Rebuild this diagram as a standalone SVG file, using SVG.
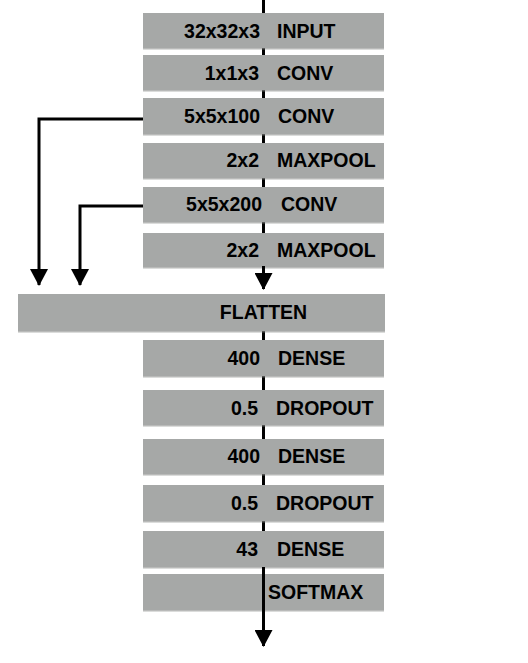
<svg xmlns="http://www.w3.org/2000/svg" width="528" height="663" viewBox="0 0 528 663">
<style>
.box{fill:#a6a8a7}
.sh{fill:#8a8c8b;opacity:0.6}
.t{font-family:"Liberation Sans",Arial,sans-serif;font-weight:bold;font-size:19.5px;fill:#000}
.n{text-anchor:end}
.ln{stroke:#000;stroke-width:3;fill:none}
</style>
<defs>
<marker id="ah" markerUnits="userSpaceOnUse" markerWidth="17" markerHeight="18" refX="16" refY="9" orient="auto" viewBox="0 0 17 18">
<path d="M0,0 L17,9 L0,18 Z" fill="#000"/>
</marker>
</defs>
<g id="connectors-back">
<line class="ln" x1="263.5" y1="0" x2="263.5" y2="280"/>
<line class="ln" x1="263.5" y1="331" x2="263.5" y2="575"/>
</g>
<g id="node-input"><rect class="sh" x="143" y="14.5" width="241" height="35"/><rect class="box" x="143" y="13" width="241" height="35"/><text class="t n" x="260" y="37.5">32x32x3</text><text class="t" x="277" y="37.5">INPUT</text></g>
<g id="node-conv1"><rect class="sh" x="143" y="56.5" width="241" height="35"/><rect class="box" x="143" y="55" width="241" height="35"/><text class="t n" x="259" y="79.5">1x1x3</text><text class="t" x="277" y="79.5">CONV</text></g>
<g id="node-conv2"><rect class="sh" x="143" y="99.5" width="241" height="36"/><rect class="box" x="143" y="98" width="241" height="36"/><text class="t n" x="260" y="123">5x5x100</text><text class="t" x="278" y="123">CONV</text></g>
<g id="node-pool1"><rect class="sh" x="143" y="144.5" width="241" height="35"/><rect class="box" x="143" y="143" width="241" height="35"/><text class="t n" x="259" y="167">2x2</text><text class="t" x="277" y="167">MAXPOOL</text></g>
<g id="node-conv3"><rect class="sh" x="143" y="188.5" width="241" height="35"/><rect class="box" x="143" y="187" width="241" height="35"/><text class="t n" x="262" y="211">5x5x200</text><text class="t" x="281" y="211">CONV</text></g>
<g id="node-pool2"><rect class="sh" x="143" y="234.5" width="241" height="34"/><rect class="box" x="143" y="233" width="241" height="34"/><text class="t n" x="259" y="257">2x2</text><text class="t" x="277" y="257">MAXPOOL</text></g>
<g id="node-flatten"><rect class="sh" x="18" y="295.5" width="367" height="37"/><rect class="box" x="18" y="294" width="367" height="37"/><text class="t" x="263.5" y="319" text-anchor="middle">FLATTEN</text></g>
<g id="node-dense1"><rect class="sh" x="143" y="341.5" width="241" height="36"/><rect class="box" x="143" y="340" width="241" height="36"/><text class="t n" x="260" y="365">400</text><text class="t" x="278" y="365">DENSE</text></g>
<g id="node-drop1"><rect class="sh" x="143" y="391.5" width="241" height="35"/><rect class="box" x="143" y="390" width="241" height="35"/><text class="t n" x="258" y="415">0.5</text><text class="t" x="276" y="415">DROPOUT</text></g>
<g id="node-dense2"><rect class="sh" x="143" y="440.5" width="241" height="35"/><rect class="box" x="143" y="439" width="241" height="35"/><text class="t n" x="260" y="463">400</text><text class="t" x="278" y="463">DENSE</text></g>
<g id="node-drop2"><rect class="sh" x="143" y="486.5" width="241" height="36"/><rect class="box" x="143" y="485" width="241" height="36"/><text class="t n" x="258" y="510">0.5</text><text class="t" x="276" y="510">DROPOUT</text></g>
<g id="node-dense3"><rect class="sh" x="143" y="532.5" width="241" height="36"/><rect class="box" x="143" y="531" width="241" height="36"/><text class="t n" x="258" y="556">43</text><text class="t" x="277" y="556">DENSE</text></g>
<g id="node-softmax"><rect class="sh" x="143" y="575.5" width="241" height="36"/><rect class="box" x="143" y="574" width="241" height="36"/><text class="t" x="268" y="599">SOFTMAX</text></g>
<g id="connectors">
<line class="ln" x1="263.5" y1="266" x2="263.5" y2="289" marker-end="url(#ah)"/>
<polyline class="ln" points="143,119 39,119 39,285" marker-end="url(#ah)"/>
<polyline class="ln" points="143,206 80,206 80,285" marker-end="url(#ah)"/>
<line class="ln" x1="263.5" y1="567" x2="263.5" y2="646" marker-end="url(#ah)"/>
</g>
</svg>
